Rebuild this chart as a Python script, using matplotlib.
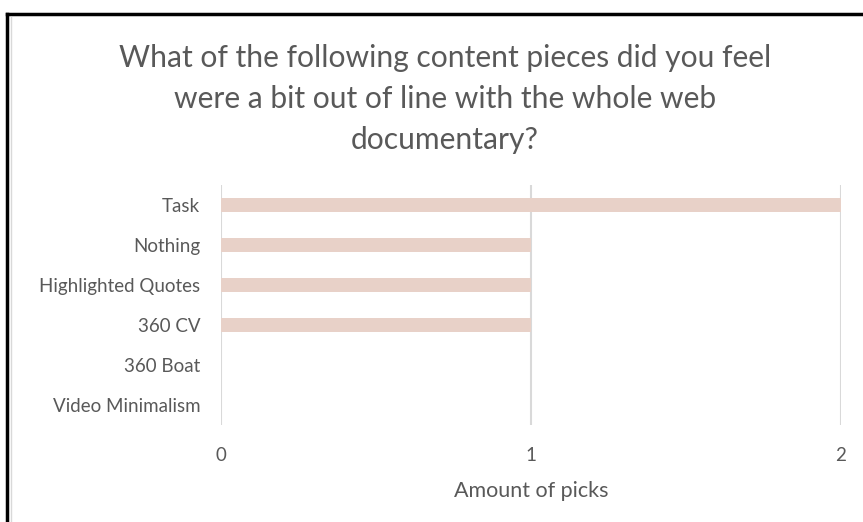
import matplotlib
matplotlib.use("Agg")
import matplotlib.pyplot as plt
from matplotlib.lines import Line2D

categories = ["Task", "Nothing", "Highlighted Quotes", "360 CV", "360 Boat", "Video Minimalism"]
values = [2, 1, 1, 1, 0, 0]
xticks = [0, 1, 2]
title = "What of the following content pieces did you feel\nwere a bit out of line with the whole web\ndocumentary?"
xlabel = "Amount of picks"

plt.rcParams['font.family'] = ['Lato', 'DejaVu Sans']
W, H = 863, 522
fig = plt.figure(figsize=(W/100, H/100), dpi=100)
fig.patch.set_facecolor('white')

ax = fig.add_axes([221/W, 1-425/H, (841-221)/W, (425-185)/H])
ypos = list(range(len(categories)))
ax.barh(ypos, values, height=0.36, color='#E8D1C8', zorder=3)
ax.set_ylim(len(categories)-0.5, -0.5)
ax.set_xlim(0, 2)
ax.set_yticks(ypos)
ax.set_yticklabels(categories, fontsize=13.5, color='#595959')
ax.set_xticks(xticks)
ax.set_xticklabels([str(t) for t in xticks], fontsize=13.5, color='#595959')
ax.tick_params(axis='y', length=0, pad=15)
ax.tick_params(axis='x', length=0, pad=16)
for s in ax.spines.values():
    s.set_visible(False)
ax.grid(axis='x', color='#D9D9D9', linewidth=1.5, zorder=0)
ax.set_axisbelow(True)
ax.set_xlabel(xlabel, fontsize=15.5, color='#595959', labelpad=12)

fig.text(445/W, 1-99/H, title, ha='center', va='center', fontsize=21.6,
         color='#595959', linespacing=1.58)

# outer black frame and inner gray chart border
fig.add_artist(Line2D([7/W, 7/W], [0, 1-14/H], color='black', linewidth=2.5, transform=fig.transFigure))
fig.add_artist(Line2D([7/W, 1], [1-14/H, 1-14/H], color='black', linewidth=2.5, transform=fig.transFigure))
fig.add_artist(Line2D([11/W, 11/W], [0, 1-17/H], color='#D9D9D9', linewidth=1, transform=fig.transFigure))

fig.savefig("out.png", dpi=100, facecolor='white')
